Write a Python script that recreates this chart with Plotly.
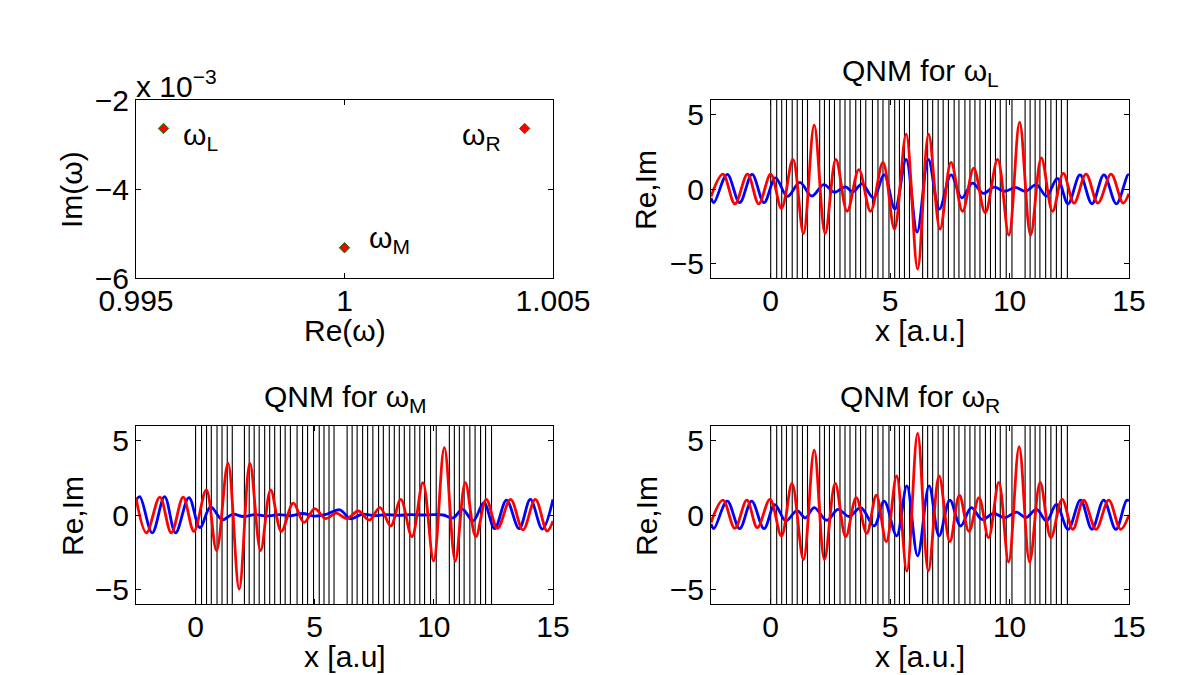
import plotly.graph_objects as go

W, H = 1190, 675
FONT = "Liberation Sans, Arial, sans-serif"
FS = 30

# ---------------- data ----------------
# complex eigenfrequencies (top-left), Im in units of 1e-3
mode_labels = ["ω<sub>L</sub>", "ω<sub>M</sub>", "ω<sub>R</sub>"]
re_omega = [0.99566, 1.00000, 1.00432]
im_omega_e3 = [-2.64, -5.32, -2.64]
label_x = [0.99608, 1.00054, 1.00278]
label_y = [-2.82, -5.14, -2.82]

re_ticks = [0.995, 1.0, 1.005]
re_ticktext = ["0.995", "1", "1.005"]
im_ticks = [-6, -4, -2]

x_ticks = [0, 5, 10, 15]
y_ticks = [-5, 0, 5]

# layer interfaces of the structure
interfaces = [0.00, 0.25, 0.46, 0.66, 0.90, 1.11, 1.33, 1.54,
              2.05, 2.25, 2.46, 2.67, 2.90, 3.11, 3.32, 3.56, 3.76, 3.98,
              4.26, 4.49, 4.70, 4.95, 5.19, 5.39, 5.60, 5.81,
              6.36, 6.57, 6.78, 7.01, 7.22, 7.44, 7.68, 7.88, 8.13, 8.34,
              8.55, 8.76, 8.99, 9.20, 9.41, 9.61, 9.86, 10.10,
              10.65, 10.86, 11.07, 11.27, 11.51, 11.73, 11.96, 12.17, 12.42]

# QNM for omega_L (extrema)
L_red_x = [-2.5, -2.0, -1.5, -0.97, -0.5, 0.0, 0.45, 0.93, 1.37, 1.82, 2.28, 2.73, 3.2, 3.69,
           4.18, 4.7, 5.18, 5.67, 6.15, 6.61, 7.09, 7.55, 8.03, 8.5, 8.98, 9.5, 9.97, 10.42,
           10.88, 11.33, 11.8, 12.25, 12.7, 13.2, 13.7, 14.25, 14.75, 15.0]
L_red_y = [-0.5, 1.0, -1.0, 1.0, -1.0, 1.0, -1.3, 2.0, -3.0, 4.3, -3.0, 2.0, -1.5, 1.3,
           -1.5, 1.8, -2.7, 3.7, -5.4, 3.7, -2.7, 1.8, -1.5, 1.4, -1.6, 2.0, -3.1, 4.5,
           -3.1, 2.1, -1.5, 1.05, -0.95, 1.0, -0.95, 1.0, -0.95, -0.3]
L_blue_x = [-2.5, -2.38, -1.82, -1.3, -0.78, -0.28, 0.2, 0.7, 1.22, 1.72, 2.22, 2.67, 3.13, 3.44,
            3.82, 4.3, 4.75, 5.2, 5.67, 6.13, 6.6, 7.06, 7.55, 8.0, 8.45, 8.9, 9.35, 9.8,
            10.25, 10.68, 11.12, 11.55, 12.0, 12.45, 12.95, 13.45, 13.95, 14.47, 14.95, 15.0]
L_blue_y = [-0.6, -0.92, 0.98, -0.92, 0.98, -0.92, 0.75, -0.5, 0.45, -0.48, 0.3, -0.22, 0.15, -0.2,
            0.35, -0.6, 0.95, -1.35, 2.0, -2.9, 2.0, -1.35, 0.95, -0.6, 0.4, -0.3, 0.12, -0.15,
            0.1, -0.15, 0.3, -0.48, 0.72, -1.0, 0.95, -1.0, 0.95, -1.0, 0.95, 0.93]

# QNM for omega_M
M_red_x = [-2.5, -2.06, -1.5, -1.02, -0.52, -0.07, 0.45, 0.88, 1.36, 1.83, 2.28, 2.73, 3.15, 3.6,
           4.1, 4.55, 5.0, 5.46, 5.9, 6.35, 6.83, 7.29, 7.74, 8.19, 8.61, 9.08, 9.54, 9.99,
           10.44, 10.9, 11.32, 11.76, 12.2, 12.67, 13.22, 13.74, 14.26, 14.75, 15.0]
M_red_y = [1.15, -1.2, 1.2, -1.2, 1.2, -1.1, 1.7, -2.4, 3.5, -5.0, 3.5, -2.4, 1.7, -1.1,
           0.8, -0.5, 0.43, -0.25, 0.12, -0.25, 0.27, -0.34, 0.5, -0.74, 1.06, -1.46, 2.18, -3.1,
           4.54, -3.1, 2.18, -1.46, 1.06, -0.9, 1.06, -1.0, 1.06, -1.08, -0.4]
M_blue_x = [-2.5, -2.34, -1.82, -1.3, -0.84, -0.28, 0.18, 0.63, 1.12, 1.55, 2.0, 2.5, 3.0, 3.5,
            4.0, 4.5, 5.0, 5.5, 6.05, 6.5, 7.0, 7.5, 8.0, 8.5, 9.0, 9.5, 10.0, 10.4,
            10.8, 11.2, 11.65, 12.1, 12.55, 13.05, 13.58, 14.05, 14.55, 15.0]
M_blue_y = [1.0, 1.24, -1.2, 1.24, -1.2, 1.17, -0.85, 0.55, -0.33, 0.05, -0.1, 0.02, -0.08, 0.02,
            -0.05, 0.1, -0.08, 0.05, 0.35, -0.25, 0.05, -0.05, 0.02, -0.02, 0.02, 0.0, 0.02, 0.0,
            -0.2, 0.38, -0.4, 0.83, -0.92, 1.0, -0.92, 1.05, -0.95, 1.05]

# QNM for omega_R
R_red_x = [-2.5, -2.0, -1.5, -1.0, -0.56, -0.03, 0.45, 0.89, 1.37, 1.82, 2.25, 2.7, 3.14, 3.58,
           4.02, 4.42, 4.84, 5.27, 5.7, 6.15, 6.6, 7.05, 7.5, 7.9, 8.3, 8.72, 9.12, 9.55,
           9.96, 10.4, 10.84, 11.28, 11.73, 12.2, 12.65, 13.1, 13.62, 14.15, 14.65, 15.0]
R_red_y = [-0.5, 1.0, -0.9, 1.0, -0.85, 1.06, -1.42, 2.13, -3.0, 4.38, -3.0, 2.13, -1.46, 1.17,
           -1.24, 1.33, -1.8, 2.63, -3.78, 5.5, -3.78, 2.63, -1.8, 1.33, -1.1, 1.17, -1.53, 2.2,
           -3.17, 4.6, -3.17, 2.2, -1.53, 1.06, -0.97, 1.0, -0.97, 1.0, -0.97, 0.0]
R_blue_x = [-2.5, -2.38, -1.82, -1.3, -0.8, -0.28, 0.17, 0.63, 1.1, 1.45, 1.82, 2.35, 2.82, 3.28,
            3.77, 4.33, 4.75, 5.27, 5.7, 6.15, 6.63, 7.05, 7.5, 7.95, 8.4, 8.85, 9.33, 9.79,
            10.3, 10.68, 11.13, 11.55, 11.96, 12.45, 12.97, 13.45, 13.94, 14.45, 14.9, 15.0]
R_blue_y = [-0.6, -0.92, 0.94, -0.92, 0.94, -0.92, 0.7, -0.4, 0.3, -0.2, 0.5, -0.36, 0.38, -0.1,
            0.5, -0.74, 0.94, -1.4, 1.96, -2.76, 1.96, -1.4, 1.0, -0.74, 0.5, -0.3, 0.1, -0.18,
            0.2, -0.18, 0.38, -0.4, 0.72, -0.97, 1.0, -0.97, 1.0, -0.97, 1.0, 0.95]

# ---------------- layout helpers ----------------
def px(x):
    return x / W

def py(y):
    return 1 - y / H

LEFT = (136, 553)
RIGHT = (711, 1129)
TOP = (100, 278)
BOT = (426, 604)

fig = go.Figure()

axis_common = dict(
    showline=True, linecolor="black", linewidth=1, mirror="allticks",
    ticks="inside", ticklen=5, tickcolor="black", tickwidth=1,
    showgrid=False, zeroline=False, automargin=False,
    tickfont=dict(family=FONT, size=FS, color="black"),
)

def add_axes(n, xdom, ydom, xr, yr, xt, yt, xtt=None):
    xa = dict(axis_common, domain=[px(xdom[0]), px(xdom[1])], range=xr,
              tickvals=xt, ticklabelstandoff=-4,
              anchor="y" + ("" if n == 1 else str(n)))
    if xtt is not None:
        xa["ticktext"] = xtt
    ya = dict(axis_common, domain=[py(ydom[1]), py(ydom[0])], range=yr,
              tickvals=yt, anchor="x" + ("" if n == 1 else str(n)))
    fig.update_layout({("xaxis" if n == 1 else f"xaxis{n}"): xa,
                       ("yaxis" if n == 1 else f"yaxis{n}"): ya})

add_axes(1, LEFT, TOP, [0.995, 1.005], [-6, -2], re_ticks, im_ticks, re_ticktext)
add_axes(2, RIGHT, TOP, [-2.5, 15], [-6, 6], x_ticks, y_ticks)
add_axes(3, LEFT, BOT, [-2.5, 15], [-6, 6], x_ticks, y_ticks)
add_axes(4, RIGHT, BOT, [-2.5, 15], [-6, 6], x_ticks, y_ticks)

# eigenfrequency markers
fig.add_trace(go.Scatter(
    x=re_omega, y=im_omega_e3, mode="markers", xaxis="x", yaxis="y",
    marker=dict(symbol="diamond", size=8, color="red",
                line=dict(color="green", width=1)),
    showlegend=False, hoverinfo="skip"))

for lx, ly, lab in zip(label_x, label_y, mode_labels):
    fig.add_annotation(x=lx, y=ly, xref="x", yref="y", text=lab, showarrow=False,
                       xanchor="left", yanchor="middle",
                       font=dict(family=FONT, size=FS, color="black"))

# interface lines
vx, vy = [], []
for p in interfaces:
    vx += [p, p, None]
    vy += [-6, 6, None]

panels = [
    ("x2", "y2", L_red_x, L_red_y, L_blue_x, L_blue_y),
    ("x3", "y3", M_red_x, M_red_y, M_blue_x, M_blue_y),
    ("x4", "y4", R_red_x, R_red_y, R_blue_x, R_blue_y),
]
for xa, ya, rx, ry, bx, by in panels:
    fig.add_trace(go.Scatter(x=vx, y=vy, mode="lines", xaxis=xa, yaxis=ya,
                             line=dict(color="black", width=1.1),
                             showlegend=False, hoverinfo="skip"))
    fig.add_trace(go.Scatter(x=bx, y=by, mode="lines", xaxis=xa, yaxis=ya,
                             line=dict(color="blue", width=2.8, shape="spline", smoothing=1.0),
                             showlegend=False, hoverinfo="skip"))
    fig.add_trace(go.Scatter(x=rx, y=ry, mode="lines", xaxis=xa, yaxis=ya,
                             line=dict(color="red", width=2.8, shape="spline", smoothing=1.0),
                             showlegend=False, hoverinfo="skip"))

def text(xp, yp, s, angle=0, xanchor="center", yanchor="middle"):
    fig.add_annotation(x=px(xp), y=py(yp), xref="paper", yref="paper", text=s,
                       showarrow=False, textangle=angle, xanchor=xanchor, yanchor=yanchor,
                       font=dict(family=FONT, size=FS, color="black"))

# titles
text(920, 72, "QNM for ω<sub>L</sub>")
text(345, 398, "QNM for ω<sub>M</sub>")
text(920, 398, "QNM for ω<sub>R</sub>")
# x titles
text(345, 330, "Re(ω)")
text(920, 330, "x [a.u.]")
text(345, 656, "x [a.u]")
text(920, 656, "x [a.u.]")
# y titles
text(72, 190, "Im(ω)", angle=-90)
text(646, 190, "Re,Im", angle=-90)
text(72, 516, "Re,Im", angle=-90)
text(646, 516, "Re,Im", angle=-90)
# exponent
text(134, 84, "x 10<sup>−3</sup>", xanchor="left")

fig.update_layout(width=W, height=H,
                  margin=dict(l=0, r=0, t=0, b=0, pad=0, autoexpand=False),
                  paper_bgcolor="white", plot_bgcolor="white", showlegend=False)

fig.write_html("out.html", config={"displayModeBar": False, "staticPlot": True},
               post_script="document.body.style.margin='0';document.body.style.padding='0';")
